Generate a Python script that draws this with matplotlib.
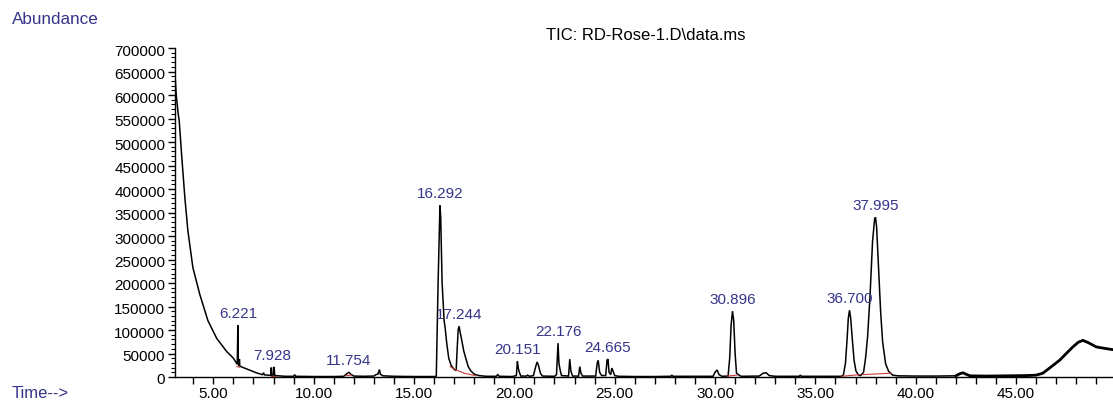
import numpy as np
import matplotlib.pyplot as plt
from matplotlib.transforms import ScaledTranslation

# TIC trace (retention time in min, abundance)
rt = [3.09, 3.15, 3.25, 3.30, 3.43, 3.58, 3.73, 3.98, 4.33, 4.73, 5.17, 5.67, 6.00,
      6.19, 6.205, 6.221, 6.235, 6.26, 6.28, 6.30, 6.32, 6.67, 7.17,
      7.45, 7.50, 7.55, 7.82, 7.86, 7.88, 7.90, 7.98, 8.00, 8.03, 8.06,
      8.6, 9.0, 9.05, 9.1, 10.0, 11.0, 11.5, 11.65, 11.754, 11.85, 12.0, 12.5,
      13.0, 13.1, 13.2, 13.28, 13.32, 13.45, 14.0, 15.0,
      16.05, 16.11, 16.2, 16.292, 16.33, 16.40, 16.50, 16.55, 16.63, 16.73, 16.85,
      17.0, 17.1, 17.15, 17.20, 17.244, 17.30, 17.38, 17.48, 17.58, 17.70, 17.83,
      18.0, 18.23, 18.6, 19.1, 19.17, 19.25, 19.9,
      20.1, 20.151, 20.2, 20.25, 20.32, 20.6, 20.67, 20.75,
      20.95, 21.05, 21.13, 21.2, 21.3, 21.4,
      22.0, 22.1, 22.176, 22.22, 22.28, 22.35, 22.7, 22.76, 22.82, 22.9,
      23.2, 23.26, 23.32, 23.4, 24.05, 24.13, 24.18, 24.25, 24.35,
      24.55, 24.62, 24.665, 24.72, 24.8, 24.86, 24.92, 25.0, 25.2,
      26.0, 27.0, 27.8, 27.85, 27.9, 29.9, 30.0, 30.1, 30.2, 30.35,
      30.65, 30.73, 30.80, 30.87, 30.93, 31.0, 31.07, 31.2, 31.3,
      32.2, 32.4, 32.55, 32.7, 33.0, 34.2, 34.25, 34.3,
      36.3, 36.4, 36.5, 36.58, 36.64, 36.70, 36.76, 36.84, 36.93, 37.02, 37.15, 37.25,
      37.4, 37.5, 37.6, 37.72, 37.85, 37.95, 37.995, 38.05, 38.15, 38.25, 38.35,
      38.5, 38.65, 38.85, 39.1, 40.0, 41.0, 42.0, 42.2, 42.35, 42.5, 42.7,
      43.5, 44.5, 45.5, 46.0, 46.33, 46.7, 47.18, 47.5, 47.83, 48.1, 48.33,
      48.6, 49.0, 49.4, 49.85]
abundance = [645000, 600000, 560000, 545000, 467000, 382000, 312000, 233000, 175000,
             120000, 82000, 54000, 40000,
             27000, 60000, 110000, 50000, 25000, 24000, 38000, 23000, 17000, 8500,
             5000, 9000, 4500, 3500, 4000, 20000, 4000, 4000, 21000, 20000, 3000,
             1500, 1500, 5000, 1500, 1000, 1000, 1500, 7000, 10000, 6000, 2000, 1500,
             2000, 5000, 6000, 16000, 6000, 2500, 1500, 1000,
             1000, 2000, 200000, 365000, 340000, 200000, 120000, 105000, 72000, 40000,
             25000,
             16000, 14000, 60000, 100000, 108000, 95000, 78000, 55000, 40000, 22000,
             13000,
             6000, 3000, 1500, 1500, 5000, 1500, 1000,
             3000, 33000, 18000, 10000, 2000, 2000, 4000, 1500,
             3000, 20000, 32000, 25000, 8000, 2000,
             1500, 5000, 72000, 30000, 15000, 3000, 2000, 38000, 12000, 2000,
             2000, 22000, 8000, 2000, 2000, 30000, 35000, 10000, 3000,
             3000, 36000, 38000, 10000, 5000, 19000, 12000, 3000, 1500,
             1000, 1000, 1500, 4000, 1500, 1500, 10000, 15000, 5000, 1500,
             2000, 40000, 110000, 140000, 120000, 50000, 8000, 4000, 1500,
             2000, 8000, 9000, 3000, 1500, 1500, 4000, 1500,
             1500, 5000, 30000, 80000, 125000, 142000, 125000, 80000, 35000, 13000,
             4000, 3000,
             10000, 40000, 85000, 170000, 290000, 335000, 340000, 320000, 230000,
             140000, 75000,
             28000, 12000, 4000, 2500, 2000, 2000, 2500, 7000, 9000, 6000, 2500,
             2000, 2500, 3000, 4000, 8000, 20000, 36000, 50000, 64000, 74000, 78000,
             73000, 64000, 61000, 58000]

# labelled peaks
peak_rt = [6.221, 7.928, 11.754, 16.292, 17.244, 20.151, 22.176, 24.665,
           30.896, 36.700, 37.995]

# red integration baselines
base_rt = [[6.17, 6.30], [7.85, 8.07], [11.6, 11.9], [16.8, 17.1, 17.5, 18.05],
           [30.6, 31.1], [36.3, 37.2], [37.35, 38.75]]
base_ab = [[22000, 21000], [3000, 3000], [3000, 4000], [22000, 15000, 8000, 3000],
           [2000, 4000], [1500, 5000], [5000, 8000]]

x_ticks = [5, 10, 15, 20, 25, 30, 35, 40, 45]

blue = '#35358a'
font = ['Liberation Sans', 'DejaVu Sans']

fig = plt.figure(figsize=(11.13, 4.07), dpi=100)
ax = fig.add_axes([175 / 1113, 30 / 407, 1 - 175 / 1113, 329 / 407])

rt_arr = np.array(rt)
ab_arr = np.array(abundance)
ax.plot(rt_arr, ab_arr, color='black', lw=1.1, solid_joinstyle='miter')
tail = rt_arr >= 42
ax.plot(rt_arr[tail], ab_arr[tail], color='black', lw=2.0)

for bx, by in zip(base_rt, base_ab):
    ax.plot(bx, by, color='#c83c3c', lw=0.8)

for p in peak_rt:
    near = np.abs(rt_arr - p) < 0.12
    top = ab_arr[near].max()
    ax.annotate(f'{p:.3f}', (p, top), xytext=(0, 4), textcoords='offset pixels',
                ha='center', va='bottom', color=blue, fontsize=11,
                family=font)

ax.set_xlim(3.09, 49.83)
ax.set_ylim(0, 700000)
ax.spines['top'].set_visible(False)
ax.spines['right'].set_visible(False)
ax.spines['left'].set_linewidth(1.0)
ax.spines['bottom'].set_linewidth(1.0)

ax.set_xticks(x_ticks)
ax.set_xticklabels([f'{t:.2f}' for t in x_ticks])
ax.set_xticks(np.arange(4, 50, 1), minor=True)
ax.set_yticks(np.arange(0, 700001, 50000))
ax.set_yticks(np.arange(0, 700001, 10000), minor=True)
ax.tick_params(axis='both', which='major', direction='out', length=5, width=1,
               labelsize=11, pad=2)
ax.tick_params(axis='x', which='minor', direction='out', length=5, width=1)
ax.tick_params(axis='y', which='minor', direction='out', length=3, width=0.8)
shift = ScaledTranslation(0, -2 / 100, fig.dpi_scale_trans)
for lab in ax.get_yticklabels():
    lab.set_family(font)
    lab.set_transform(lab.get_transform() + shift)
for lab in ax.get_xticklabels():
    lab.set_family(font)

fig.text(12 / 1113, 1 - 19 / 407, 'Abundance', color=blue, fontsize=12.3,
         family=font, va='center', ha='left')
fig.text(12 / 1113, 1 - 394 / 407, 'Time-->', color=blue, fontsize=12,
         family=font, va='center', ha='left')
fig.text(646 / 1113, 1 - 36 / 407, 'TIC: RD-Rose-1.D\\data.ms', color='black',
         fontsize=12, family=font, va='center', ha='center')

fig.savefig('out.png', dpi=100)
